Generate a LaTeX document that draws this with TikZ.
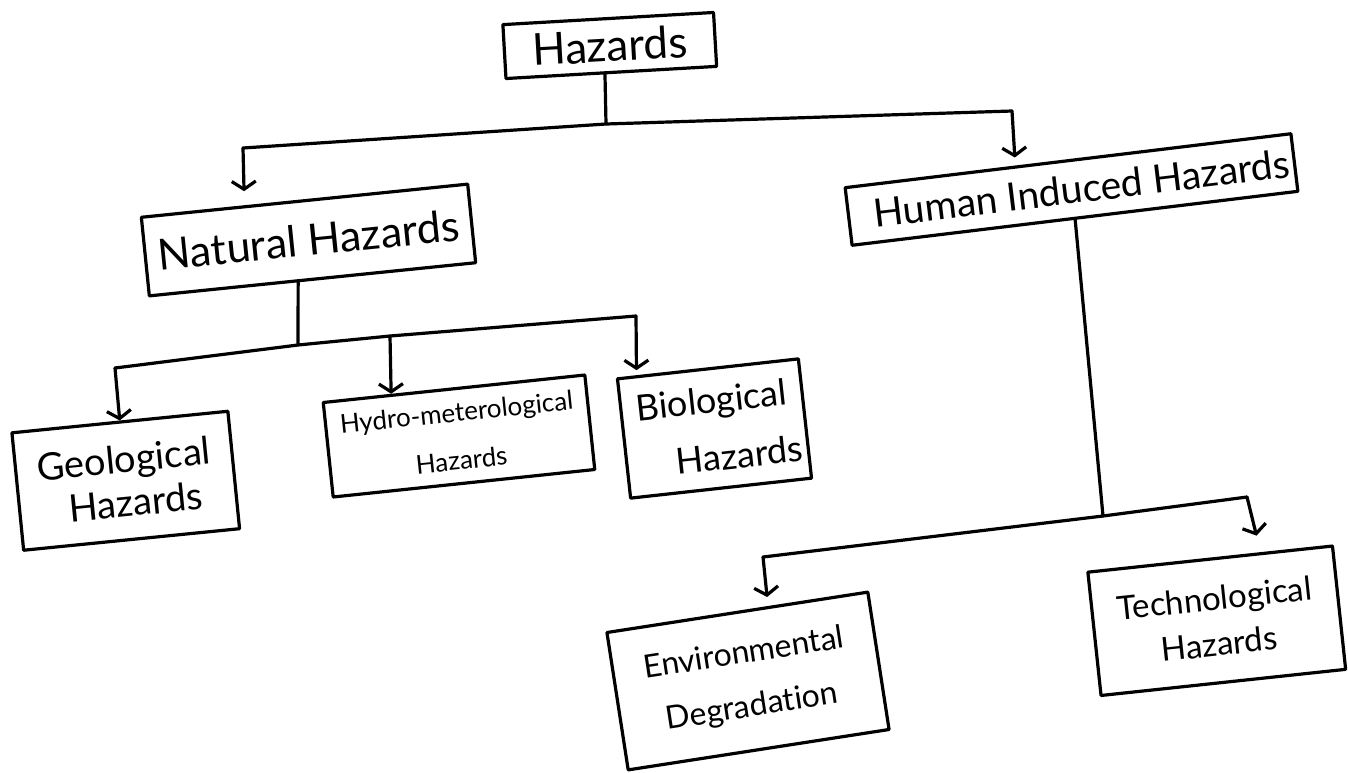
\documentclass[tikz,border=0pt]{standalone}
\usepackage{fontspec}
\setmainfont{Lato}[Ligatures=NoCommon]
\usetikzlibrary{arrows.meta,calc}
\begin{document}
\begin{tikzpicture}[x=1pt,y=-1pt,
  line cap=round, line join=round,
  box/.style={draw, rectangle, inner sep=0pt, align=center, line width=3.2pt},
  link/.style={line width=3.2pt},
  arr/.style={link, -{Straight Barb[length=8pt,width=24pt]}},
]
\useasboundingbox[fill=white] (0,0) rectangle (1348,772);

% boxes
\node[box, rotate=3.3, minimum width=211pt, minimum height=54pt,
      font=\fontsize{44}{48}\selectfont] (haz) at (609.75,45.5) {Hazards};
\node[box, rotate=5.8, minimum width=328pt, minimum height=79pt,
      font=\fontsize{43}{46}\selectfont] (nat) at (308.5,240) {Natural Hazards};
\node[box, rotate=6.9, minimum width=449pt, minimum height=58pt,
      font=\fontsize{39}{42}\selectfont] (hum) at (1071.5,189.5) {\hspace*{20pt}Human Induced Hazards};
\node[box, rotate=5.7, minimum width=217pt, minimum height=118pt,
      font=\fontsize{38}{44}\selectfont] (geo) at (125.75,480.75) {Geological\\\hspace*{16pt}Hazards};
\node[box, rotate=6, minimum width=263pt, minimum height=95pt,
      font=\fontsize{26}{48}\selectfont] (hyd) at (459,436) {Hydro-meterological\\Hazards};
\node[box, rotate=6.3, minimum width=182pt, minimum height=120pt,
      font=\fontsize{36}{58}\selectfont] (bio) at (714.5,428.5) {Biological\\\hspace*{44pt}Hazards};
\node[box, rotate=8.8, minimum width=264pt, minimum height=139pt,
      font=\fontsize{32}{54}\selectfont] (env) at (748,681) {Environmental\\Degradation};
\node[box, rotate=6.1, minimum width=246pt, minimum height=124pt,
      font=\fontsize{33}{46}\selectfont] (tec) at (1216.75,620.75) {Technological\\Hazards};

% branch corners and junctions
\coordinate (t-left) at (243,148);
\coordinate (t-hub) at (606,124);
\coordinate (t-right) at (1012,111);
\coordinate (n-left) at (115,368);
\coordinate (n-hub) at (298,345);
\coordinate (n-mid) at (390,336);
\coordinate (n-right) at (636,316);
\coordinate (h-left) at (763,557);
\coordinate (h-hub) at (1103,516);
\coordinate (h-right) at (1247,497);

% Hazards -> Natural / Human induced
\draw[link] ($(haz.south west)!0.47!(haz.south east)$) -- (t-hub);
\draw[link] (t-left) -- (t-hub) -- (t-right);
\draw[arr, shorten >=14pt] (t-left) -- ($(nat.north west)!0.318!(nat.north east)$);
\draw[arr, shorten >=8pt] (t-right) -- ($(hum.north west)!0.383!(hum.north east)$);

% Natural hazards -> three kinds
\draw[link] ($(nat.south west)!0.456!(nat.south east)$) -- (n-hub);
\draw[link] (n-left) -- (n-hub) -- (n-mid) -- (n-right);
\draw[arr] (n-left) -- (geo.north);
\draw[arr] (n-mid) -- ($(hyd.north west)!0.263!(hyd.north east)$);
\draw[arr, shorten >=5pt] (n-right) -- ($(bio.north west)!0.113!(bio.north east)$);

% Human induced hazards -> two kinds
\draw[link] (hum.south) -- (h-hub);
\draw[link] (h-left) -- (h-hub) -- (h-right);
\draw[arr, shorten >=9pt] (h-left) -- ($(env.north west)!0.617!(env.north east)$);
\draw[arr, shorten >=17pt] (h-right) -- ($(tec.north west)!0.704!(tec.north east)$);
\end{tikzpicture}
\end{document}
